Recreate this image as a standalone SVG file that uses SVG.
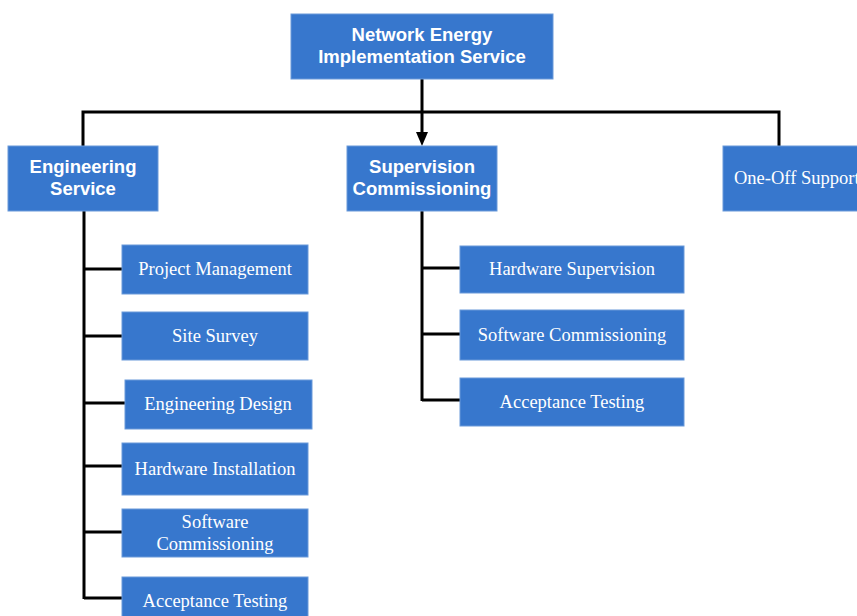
<svg xmlns="http://www.w3.org/2000/svg" width="857" height="616" viewBox="0 0 857 616">
<style>
.box{fill:#3777cd;stroke:#6a9ad9;stroke-width:1}
.h{font-family:"Liberation Sans",Arial,sans-serif;font-weight:bold;font-size:18.5px;fill:#fff;text-anchor:middle}
.c{font-family:"Liberation Serif","Times New Roman",serif;font-size:18.5px;fill:#fff;text-anchor:middle}
.ln{stroke:#000;stroke-width:3;fill:none}
</style>
<g id="connectors">
<path class="ln" d="M422,79 V133"/>
<path d="M416,132 L428,132 L422,146 Z" fill="#000"/>
<path class="ln" d="M83,146 V112 H779 V146"/>
<path class="ln" d="M84,211 V599"/>
<path class="ln" d="M84,269 H122"/>
<path class="ln" d="M84,336 H122"/>
<path class="ln" d="M84,403 H125"/>
<path class="ln" d="M84,466 H122"/>
<path class="ln" d="M84,532 H122"/>
<path class="ln" d="M84,598 H122"/>
<path class="ln" d="M422,211 V401"/>
<path class="ln" d="M422,268 H460"/>
<path class="ln" d="M422,334 H460"/>
<path class="ln" d="M422,400 H460"/>
</g>
<g id="root"><rect class="box" x="291" y="14" width="262" height="65"/><text class="h" x="422" y="41">Network Energy</text><text class="h" x="422" y="63">Implementation Service</text></g>
<g id="engineering"><rect class="box" x="8" y="146" width="150" height="65"/><text class="h" x="83" y="173">Engineering</text><text class="h" x="83" y="195">Service</text></g>
<g id="supervision"><rect class="box" x="347" y="146" width="150" height="65"/><text class="h" x="422" y="173">Supervision</text><text class="h" x="422" y="195">Commissioning</text></g>
<g id="oneoff"><rect class="box" x="723" y="146" width="150" height="65"/><text class="c" x="734" y="184" style="text-anchor:start">One-Off Support</text></g>
<g id="pm"><rect class="box" x="122" y="245" width="186" height="49"/><text class="c" x="215" y="275">Project Management</text></g>
<g id="ss"><rect class="box" x="122" y="312" width="186" height="48"/><text class="c" x="215" y="342">Site Survey</text></g>
<g id="ed"><rect class="box" x="125" y="380" width="187" height="49"/><text class="c" x="218" y="410">Engineering Design</text></g>
<g id="hi"><rect class="box" x="122" y="443" width="186" height="52"/><text class="c" x="215" y="475">Hardware Installation</text></g>
<g id="sc"><rect class="box" x="122" y="509" width="186" height="48"/><text class="c" x="215" y="528">Software</text><text class="c" x="215" y="550">Commissioning</text></g>
<g id="at"><rect class="box" x="122" y="577" width="186" height="50"/><text class="c" x="215" y="607">Acceptance Testing</text></g>
<g id="hs"><rect class="box" x="460" y="246" width="224" height="47"/><text class="c" x="572" y="275">Hardware Supervision</text></g>
<g id="sc2"><rect class="box" x="460" y="310" width="224" height="50"/><text class="c" x="572" y="341">Software Commissioning</text></g>
<g id="at2"><rect class="box" x="460" y="378" width="224" height="48"/><text class="c" x="572" y="408">Acceptance Testing</text></g>
</svg>
